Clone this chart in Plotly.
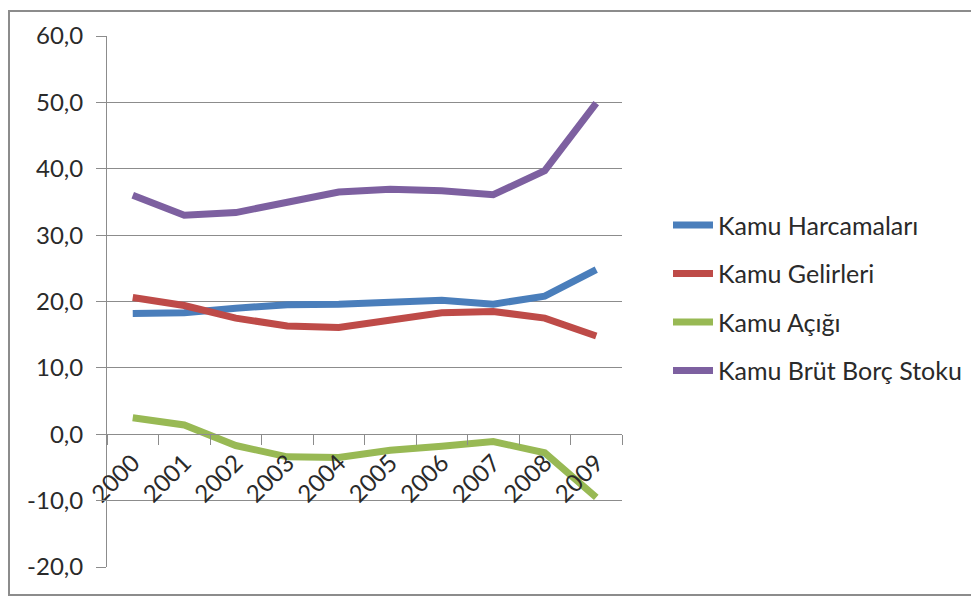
import plotly.graph_objects as go

years = ["2000", "2001", "2002", "2003", "2004", "2005", "2006", "2007", "2008", "2009"]
harcama = [18.2, 18.3, 19.0, 19.5, 19.6, 19.8, 20.2, 19.6, 20.8, 24.8]
gelir = [20.6, 19.4, 17.5, 16.3, 16.1, 17.3, 18.3, 18.5, 17.5, 14.8]
acik = [2.5, 1.4, -1.7, -3.4, -3.5, -2.4, -1.8, -1.1, -2.8, -9.5]
borc = [36.0, 33.0, 33.4, 35.0, 36.5, 36.9, 36.7, 36.1, 39.7, 49.9]

y_tickvals = [-20, -10, 0, 10, 20, 30, 40, 50, 60]
y_ticktext = ["-20,0", "-10,0", "0,0", "10,0", "20,0", "30,0", "40,0", "50,0", "60,0"]

names = ["Kamu Harcamaları", "Kamu Gelirleri", "Kamu Açığı", "Kamu Brüt Borç Stoku"]
colors = ["#4A7EBB", "#BE4B48", "#98B954", "#7D60A0"]
series = [harcama, gelir, acik, borc]

FONT = "Lato"
TXT = "#2a2a2a"

# page has an 8px body margin; figure sized to fit the window
W, H = 971, 589
L, T = 99, 26
PW, PH = 515, 533
R = W - L - PW
B = H - T - PH

fig = go.Figure()
for i, (n, c, s) in enumerate(zip(names, colors, series)):
    fig.add_trace(go.Scatter(
        x=years, y=s, name=n, mode="lines",
        line=dict(color=c, width=7),
        legendgroup=str(i),
    ))

fig.update_layout(
    width=W, height=H,
    margin=dict(l=L, r=R, t=T, b=B),
    paper_bgcolor="white", plot_bgcolor="white",
    font=dict(family=FONT, size=23, color=TXT),
    showlegend=True,
    legend=dict(
        x=(668 - 107) / PW, y=(567 - 201) / PH, xanchor="left", yanchor="top",
        font=dict(family=FONT, size=25, color=TXT),
        tracegroupgap=13, itemwidth=40,
        bgcolor="rgba(0,0,0,0)",
    ),
    xaxis=dict(
        type="category", range=[-0.5, 9.5],
        showgrid=False, showline=True, linecolor="#8c8c8c", linewidth=1,
        ticks="outside", ticklen=10, tickcolor="#8c8c8c", tickson="boundaries",
        tickangle=-45, anchor="free", position=0.25,
        ticklabelstandoff=4,
        tickfont=dict(family=FONT, size=24, color=TXT),
        zeroline=False,
    ),
    yaxis=dict(
        range=[-20, 60], tickmode="array",
        tickvals=y_tickvals, ticktext=y_ticktext,
        showgrid=True, gridcolor="#8c8c8c", gridwidth=1,
        showline=True, linecolor="#8c8c8c", linewidth=1,
        ticks="outside", ticklen=10, tickcolor="#8c8c8c",
        ticklabelstandoff=8,
        zeroline=False,
        tickfont=dict(family=FONT, size=24, color=TXT),
    ),
    shapes=[dict(
        type="rect", xref="paper", yref="paper",
        x0=(1 - L) / PW, x1=(964 - L) / PW,
        y0=(T + PH - 587) / PH, y1=(T + PH - 1) / PH,
        line=dict(color="#8c8c8c", width=2), layer="below",
    )],
)

fig.write_html("out.html")
